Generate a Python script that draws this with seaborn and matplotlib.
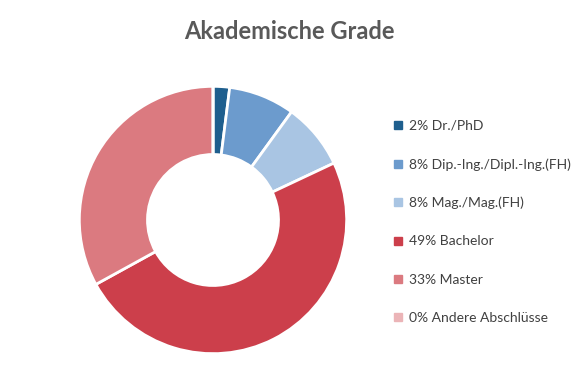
import matplotlib.pyplot as plt
import seaborn as sns
from matplotlib.lines import Line2D

# data
degrees = ["Dr./PhD", "Dip.-Ing./Dipl.-Ing.(FH)", "Mag./Mag.(FH)", "Bachelor", "Master", "Andere Abschlüsse"]
shares = [2, 8, 8, 49, 33, 0]
colors = ["#1f5f8e", "#6c9bcd", "#a9c5e3", "#cc3f4b", "#db7a80", "#ebb4b7"]

sns.set_theme(style="white")
plt.rcParams["font.family"] = ["Lato", "DejaVu Sans"]

fig = plt.figure(figsize=(5.75, 3.84), dpi=100)
ax = fig.add_axes([78 / 575, 29 / 384, 270 / 575, 270 / 384])

ax.pie(
    shares,
    colors=colors,
    startangle=90,
    counterclock=False,
    wedgeprops=dict(width=0.51, edgecolor="white", linewidth=2),
)
ax.set_xlim(-1.01, 1.01)
ax.set_ylim(-1.01, 1.01)
ax.set_aspect("equal")

fig.text(0.503, 0.918, "Akademische Grade", ha="center", va="center",
         fontsize=17, fontweight="bold", color="#595959")

handles = [
    Line2D([0], [0], marker="s", linestyle="", markersize=6, markerfacecolor=c, markeredgecolor=c)
    for c in colors
]
labels = [f"{s}% {d}" for s, d in zip(shares, degrees)]
fig.legend(
    handles, labels,
    loc="upper left", bbox_to_anchor=(394 / 575, 1 - 120 / 384),
    frameon=False, fontsize=10, labelcolor="#404040",
    handlelength=0.6, handletextpad=0.45, labelspacing=1.88,
    borderaxespad=0, borderpad=0,
)

fig.savefig("out.png", dpi=100)
